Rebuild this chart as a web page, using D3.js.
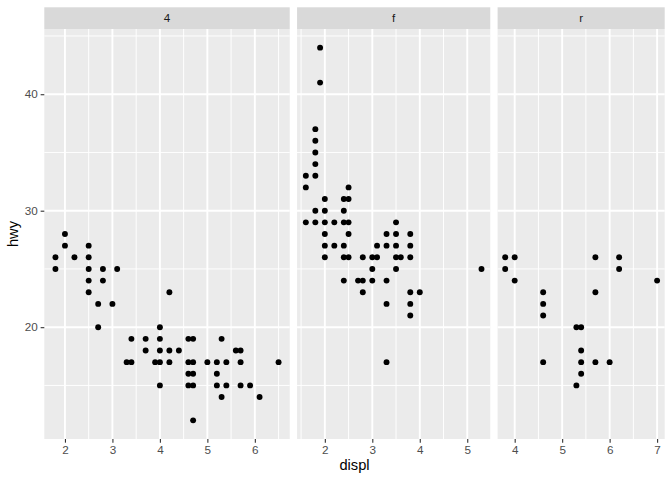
<!DOCTYPE html>
<html>
<head>
<meta charset="utf-8">
<script src="https://cdn.jsdelivr.net/npm/d3@7"></script>
<style>
  html, body { margin: 0; padding: 0; background: #fff; }
  svg { display: block; font-family: "Liberation Sans", Arial, sans-serif; }
</style>
</head>
<body>
<svg id="chart" width="672" height="480"></svg>
<script>
// Facet categories (drv)
const drvLabels = ["4", "f", "r"];

// drv = "4"
const displ4 = [1.8, 1.8, 2.0, 2.0, 2.2, 2.5, 2.5, 2.5, 2.5, 2.5, 2.7, 2.7, 2.8, 2.8, 3.0, 3.1, 3.3, 3.4, 3.4, 3.7, 3.7, 3.9,
  4.0, 4.0, 4.0, 4.0, 4.0, 4.2, 4.2, 4.2, 4.4, 4.6, 4.6, 4.6, 4.6, 4.7, 4.7, 4.7, 4.7, 4.7, 5.0, 5.2, 5.2, 5.2,
  5.3, 5.3, 5.4, 5.4, 5.6, 5.7, 5.7, 5.7, 5.9, 6.1, 6.5];
const hwy4 = [26, 25, 28, 27, 26, 27, 26, 25, 24, 23, 22, 20, 25, 24, 22, 25, 17, 19, 17, 19, 18, 17,
  20, 19, 18, 17, 15, 23, 18, 17, 18, 19, 17, 16, 15, 19, 17, 16, 15, 12, 17, 17, 16, 15,
  19, 14, 17, 15, 18, 18, 17, 15, 15, 14, 17];

// drv = "f"
const displF = [1.6, 1.6, 1.6, 1.8, 1.8, 1.8, 1.8, 1.8, 1.8, 1.8, 1.9, 1.9, 2.0, 2.0, 2.0, 2.0, 2.0, 2.0, 2.2, 2.2,
  2.4, 2.4, 2.4, 2.4, 2.4, 2.4, 2.5, 2.5, 2.5, 2.5, 2.5, 2.7, 2.8, 2.8, 2.8, 3.0, 3.0, 3.0, 3.1, 3.1,
  3.3, 3.3, 3.3, 3.3, 3.3, 3.5, 3.5, 3.5, 3.5, 3.5, 3.6, 3.8, 3.8, 3.8, 3.8, 3.8, 3.8, 4.0, 5.3];
const hwyF = [33, 32, 29, 37, 36, 35, 34, 33, 30, 29, 44, 41, 31, 30, 29, 28, 27, 26, 29, 27,
  31, 30, 29, 27, 26, 24, 32, 31, 29, 28, 26, 24, 26, 24, 23, 26, 25, 24, 27, 26,
  28, 27, 24, 22, 17, 29, 28, 27, 26, 25, 26, 28, 27, 26, 23, 22, 21, 23, 25];

// drv = "r"
const displR = [3.8, 3.8, 4.0, 4.0, 4.6, 4.6, 4.6, 4.6, 5.3, 5.3, 5.4, 5.4, 5.4, 5.4, 5.7, 5.7, 5.7, 6.0, 6.2, 6.2, 7.0];
const hwyR = [26, 25, 26, 24, 23, 22, 21, 17, 20, 15, 20, 18, 17, 16, 26, 23, 17, 17, 26, 25, 24];

const yTicks = [20, 30, 40];

// ---- layout ----
const W = 672, H = 480;
const plotLeft = 44.3, plotRight = 664.7;
const panelTop = 29, panelBottom = 439;
const stripTop = 7.3;
const gap = 7.33;
const tickLen = 3.67, tickPad = 2.93;

const svg = d3.select("#chart");

const facets = [
  { label: drvLabels[0], x: displ4, y: hwy4 },
  { label: drvLabels[1], x: displF, y: hwyF },
  { label: drvLabels[2], x: displR, y: hwyR }
];

function expand(ext) {
  const r = ext[1] - ext[0];
  return [ext[0] - 0.05 * r, ext[1] + 0.05 * r];
}

facets.forEach(f => { f.domain = expand(d3.extent(f.x)); f.span = f.domain[1] - f.domain[0]; });
const allY = [].concat(hwy4, hwyF, hwyR);
const yDomain = expand(d3.extent(allY));
const y = d3.scaleLinear().domain(yDomain).range([panelBottom, panelTop]);

const totalSpan = d3.sum(facets, f => f.span);
const pxPerUnit = (plotRight - plotLeft - gap * (facets.length - 1)) / totalSpan;
let cursor = plotLeft;
facets.forEach(f => {
  f.x0 = cursor;
  f.x1 = cursor + f.span * pxPerUnit;
  cursor = f.x1 + gap;
  f.scale = d3.scaleLinear().domain(f.domain).range([f.x0, f.x1]);
});

// y minor breaks
const yMinor = [];
const yStep = yTicks[1] - yTicks[0];
[yTicks[0] - yStep / 2].concat(yTicks.map(t => t + yStep / 2)).forEach(v => {
  if (v >= yDomain[0] && v <= yDomain[1]) yMinor.push(v);
});

facets.forEach((f, i) => {
  const g = svg.append("g");
  const xs = f.scale;
  const majors = d3.range(Math.ceil(f.domain[0]), Math.floor(f.domain[1]) + 1);
  const minors = [];
  [majors[0] - 0.5].concat(majors.map(m => m + 0.5)).forEach(v => {
    if (v >= f.domain[0] && v <= f.domain[1]) minors.push(v);
  });

  // panel background
  g.append("rect").attr("x", f.x0).attr("y", panelTop)
    .attr("width", f.x1 - f.x0).attr("height", panelBottom - panelTop)
    .attr("fill", "#EBEBEB");

  // minor grid
  g.selectAll(".ymin").data(yMinor).join("line")
    .attr("x1", f.x0).attr("x2", f.x1)
    .attr("y1", d => y(d)).attr("y2", d => y(d))
    .attr("stroke", "#fff").attr("stroke-width", 0.95);
  g.selectAll(".xmin").data(minors).join("line")
    .attr("y1", panelTop).attr("y2", panelBottom)
    .attr("x1", d => xs(d)).attr("x2", d => xs(d))
    .attr("stroke", "#fff").attr("stroke-width", 0.95);
  // major grid
  g.selectAll(".ymaj").data(yTicks).join("line")
    .attr("x1", f.x0).attr("x2", f.x1)
    .attr("y1", d => y(d)).attr("y2", d => y(d))
    .attr("stroke", "#fff").attr("stroke-width", 1.9);
  g.selectAll(".xmaj").data(majors).join("line")
    .attr("y1", panelTop).attr("y2", panelBottom)
    .attr("x1", d => xs(d)).attr("x2", d => xs(d))
    .attr("stroke", "#fff").attr("stroke-width", 1.9);

  // strip
  g.append("rect").attr("x", f.x0).attr("y", stripTop)
    .attr("width", f.x1 - f.x0).attr("height", panelTop - stripTop)
    .attr("fill", "#D9D9D9");
  g.append("text").attr("x", (f.x0 + f.x1) / 2).attr("y", (stripTop + panelTop) / 2)
    .attr("dy", "0.35em").attr("text-anchor", "middle")
    .attr("font-size", "11.7px").attr("fill", "#1A1A1A").text(f.label);

  // points
  g.selectAll("circle").data(f.x.map((d, k) => [d, f.y[k]])).join("circle")
    .attr("cx", d => xs(d[0])).attr("cy", d => y(d[1]))
    .attr("r", 2.95).attr("fill", "#000");

  // x axis
  const ax = g.append("g").attr("transform", `translate(0,${panelBottom})`)
    .call(d3.axisBottom(xs).tickValues(majors).tickFormat(d3.format("d"))
      .tickSize(tickLen).tickPadding(tickPad));
  ax.select(".domain").remove();
  ax.selectAll(".tick line").attr("stroke", "#333333").attr("stroke-width", 1.1);
  ax.selectAll(".tick text").attr("fill", "#4D4D4D").attr("font-size", "11.7px")
    .attr("font-family", "Liberation Sans, Arial, sans-serif");
});

// y axis (left of first panel)
const ay = svg.append("g").attr("transform", `translate(${facets[0].x0},0)`)
  .call(d3.axisLeft(y).tickValues(yTicks).tickSize(tickLen).tickPadding(tickPad));
ay.select(".domain").remove();
ay.selectAll(".tick line").attr("stroke", "#333333").attr("stroke-width", 1.1);
ay.selectAll(".tick text").attr("fill", "#4D4D4D").attr("font-size", "11.7px")
  .attr("font-family", "Liberation Sans, Arial, sans-serif");

// axis titles
svg.append("text").attr("x", (plotLeft + plotRight) / 2).attr("y", 470)
  .attr("text-anchor", "middle").attr("font-size", "14.67px").attr("fill", "#000")
  .text("displ");
svg.append("text")
  .attr("transform", `translate(18,${(panelTop + panelBottom) / 2}) rotate(-90)`)
  .attr("text-anchor", "middle").attr("font-size", "14.67px").attr("fill", "#000")
  .text("hwy");
</script>
</body>
</html>
